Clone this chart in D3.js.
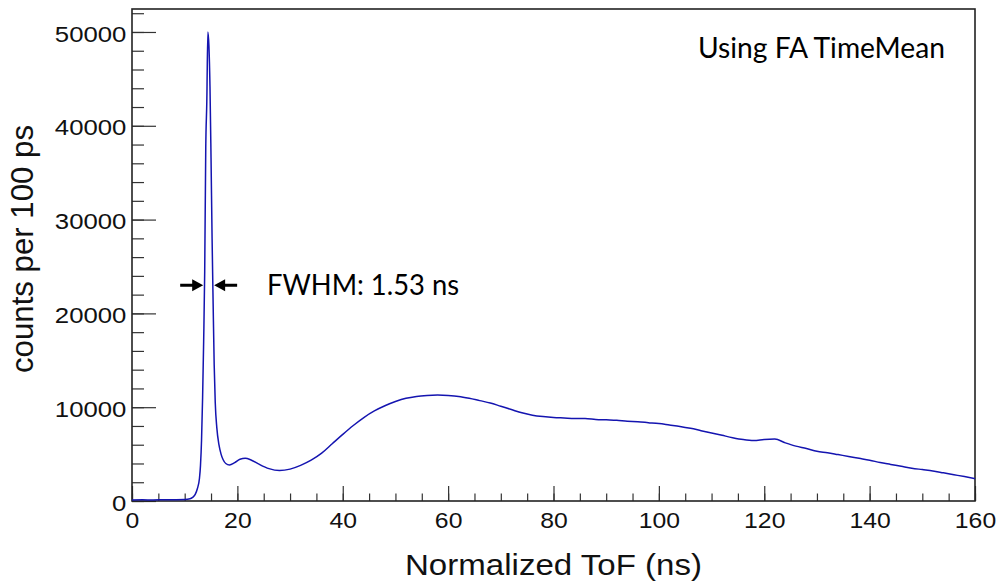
<!DOCTYPE html>
<html>
<head>
<meta charset="utf-8">
<script src="https://cdn.jsdelivr.net/npm/d3@7"></script>
<style>
  body { margin: 0; background: #fff; }
  svg { display: block; }
</style>
</head>
<body>
<script>
// ToF normalizado (ns) y cuentas por bin de 100 ps
var tiempos = [0, 2, 4, 6, 8, 10, 11, 11.5, 12, 12.4, 12.8, 13.0, 13.2, 13.4, 13.6, 13.8,
  14.0, 14.2, 14.4, 14.6, 14.8, 15.0, 15.2, 15.4, 15.6, 15.8, 16.1, 16.5, 16.9, 17.3, 17.8,
  18.5, 19.5, 20.5, 21.5, 22.5, 24, 26, 28, 30, 32, 34, 36, 38, 40, 42, 44, 46, 48, 50,
  52, 54, 56, 58, 60, 62, 64, 66, 68, 70, 72, 74, 76, 78, 80, 82, 84, 86, 88, 90, 92, 94,
  96, 98, 100, 102, 104, 106, 108, 110, 112, 114, 116, 118, 120, 122, 124, 126, 128, 130,
  132, 134, 136, 138, 140, 142, 144, 146, 148, 150, 152, 154, 156, 158, 160]

var cuentas = [100, 120, 110, 130, 140, 160, 230, 380, 700, 1300, 2400, 3800, 6500, 11000, 17000, 24500,
  37700, 42600, 50000, 48500, 44200, 36600, 28000, 21000, 14500, 10500, 7800, 6000, 5000, 4400, 4000,
  3850, 4100, 4450, 4550, 4400, 3950, 3450, 3250, 3400, 3800, 4350, 5100, 6100, 7100, 8050, 8900, 9600, 10150, 10600,
  10950, 11150, 11250, 11300, 11250, 11150, 10950, 10700, 10450, 10100, 9750, 9400, 9150, 9000, 8900, 8850, 8800, 8800, 8700, 8650, 8600, 8500,
  8450, 8350, 8250, 8100, 7950, 7750, 7500, 7250, 7000, 6750, 6550, 6450, 6550, 6600, 6200, 5850, 5600, 5300,
  5150, 4950, 4750, 4550, 4350, 4100, 3900, 3700, 3500, 3350, 3200, 3000, 2800, 2600, 2380]

var ticksX = [0, 20, 40, 60, 80, 100, 120, 140, 160]
var ticksY = [0, 10000, 20000, 30000, 40000, 50000]

// anotaciones
var fwhmBordes = [13.7, 15.4]
var fwhmAltura = 23000
var textoFwhm = "FWHM: 1.53 ns"
var textoMetodo = "Using FA TimeMean"

var datos = tiempos.map(function(t, i) { return {t: t, n: cuentas[i]} })

var ancho = 1003, alto = 588
var marco = {left: 132, right: 975, top: 9, bottom: 501}

var svg = d3.select("body")
  .append("svg")
    .attr("width", ancho)
    .attr("height", alto)

svg.append("rect")
  .attr("width", ancho).attr("height", alto)
  .attr("fill", "#fff")

var x = d3.scaleLinear()
  .domain([0, 160])
  .range([marco.left, marco.right])

var y = d3.scaleLinear()
  .domain([0, 52450])
  .range([marco.bottom, marco.top])

var fuenteRoot = "'Liberation Sans', Arial, Helvetica, sans-serif"

//EJE X: menores cada 5 ns, mayores cada 20 ns
svg.append("g")
  .attr("transform", "translate(0," + marco.bottom + ")")
  .call(d3.axisBottom(x).tickValues(d3.range(0, 161, 5)).tickSize(-7.5).tickFormat(""))
  .call(g => g.select(".domain").remove())
  .call(g => g.selectAll("line").attr("stroke", "#333").attr("stroke-width", 1.2))

svg.append("g")
  .attr("transform", "translate(0," + marco.bottom + ")")
  .call(d3.axisBottom(x).tickValues(ticksX).tickSize(-15).tickPadding(11).tickFormat(d3.format("d")))
  .call(g => g.select(".domain").remove())
  .call(g => g.selectAll("line").attr("stroke", "#333").attr("stroke-width", 1.2))
  .call(g => g.selectAll("text")
    .attr("font-family", fuenteRoot)
    .attr("font-size", 22.5)
    .attr("fill", "#111")
    .attr("transform", "scale(1.1,1)"))

//EJE Y: menores cada 2000
svg.append("g")
  .attr("transform", "translate(" + marco.left + ",0)")
  .call(d3.axisLeft(y).tickValues(d3.range(0, 52001, 2000)).tickSize(-12).tickFormat(""))
  .call(g => g.select(".domain").remove())
  .call(g => g.selectAll("line").attr("stroke", "#333").attr("stroke-width", 1.2))

svg.append("g")
  .attr("transform", "translate(" + marco.left + ",0)")
  .call(d3.axisLeft(y).tickValues(ticksY).tickSize(-24).tickPadding(5).tickFormat(d3.format("d")))
  .call(g => g.select(".domain").remove())
  .call(g => g.selectAll("line").attr("stroke", "#333").attr("stroke-width", 1.2))
  .call(g => g.selectAll("text")
    .attr("font-family", fuenteRoot)
    .attr("font-size", 23)
    .attr("fill", "#111")
    .attr("dy", "0.4em")
    .attr("transform", "scale(1.12,1)"))

// marco del grafico
svg.append("rect")
  .attr("x", marco.left)
  .attr("y", marco.top)
  .attr("width", marco.right - marco.left)
  .attr("height", marco.bottom - marco.top)
  .attr("fill", "none")
  .attr("stroke", "#222")
  .attr("stroke-width", 1.6)

// histograma
var linea = d3.line()
  .x(d => x(d.t))
  .y(d => y(d.n))
  .curve(d3.curveMonotoneX)

svg.append("path")
  .datum(datos)
  .attr("fill", "none")
  .attr("stroke", "#1414b0")
  .attr("stroke-width", 1.5)
  .attr("d", linea)

// titulos de ejes
svg.append("text")
  .attr("x", (marco.left + marco.right) / 2)
  .attr("y", 575)
  .attr("text-anchor", "middle")
  .attr("font-family", fuenteRoot)
  .attr("font-size", 30)
  .attr("fill", "#111")
  .attr("textLength", 297)
  .attr("lengthAdjust", "spacingAndGlyphs")
  .text("Normalized ToF (ns)")

svg.append("text")
  .attr("transform", "translate(33,249) rotate(-90)")
  .attr("text-anchor", "middle")
  .attr("font-family", fuenteRoot)
  .attr("font-size", 31)
  .attr("fill", "#111")
  .attr("textLength", 248)
  .attr("lengthAdjust", "spacingAndGlyphs")
  .text("counts per 100 ps")

// textos de la anotacion
svg.append("text")
  .attr("x", 698)
  .attr("y", 58)
  .attr("font-family", "Lato, 'Open Sans', sans-serif")
  .attr("font-size", 28)
  .attr("fill", "#000")
  .attr("textLength", 247)
  .attr("lengthAdjust", "spacingAndGlyphs")
  .text(textoMetodo)

svg.append("text")
  .attr("x", 267)
  .attr("y", 295)
  .attr("font-family", "Lato, 'Open Sans', sans-serif")
  .attr("font-size", 28)
  .attr("fill", "#000")
  .attr("textLength", 192)
  .attr("lengthAdjust", "spacingAndGlyphs")
  .text(textoFwhm)

// flechas del FWHM
function flecha(punta, dir) {
  var yy = y(fwhmAltura)
  var largo = 23, cabeza = 11, grueso = 1.6, ala = 6
  var cola = punta - dir * largo
  var base = punta - dir * cabeza
  return "M" + cola + "," + (yy - grueso) +
    "L" + base + "," + (yy - grueso) +
    "L" + base + "," + (yy - ala) +
    "L" + punta + "," + yy +
    "L" + base + "," + (yy + ala) +
    "L" + base + "," + (yy + grueso) +
    "L" + cola + "," + (yy + grueso) + "Z"
}

svg.append("path")
  .attr("d", flecha(x(fwhmBordes[0]) - 1, 1))
  .attr("fill", "#000")

svg.append("path")
  .attr("d", flecha(x(fwhmBordes[1]) + 1, -1))
  .attr("fill", "#000")
</script>
</body>
</html>
